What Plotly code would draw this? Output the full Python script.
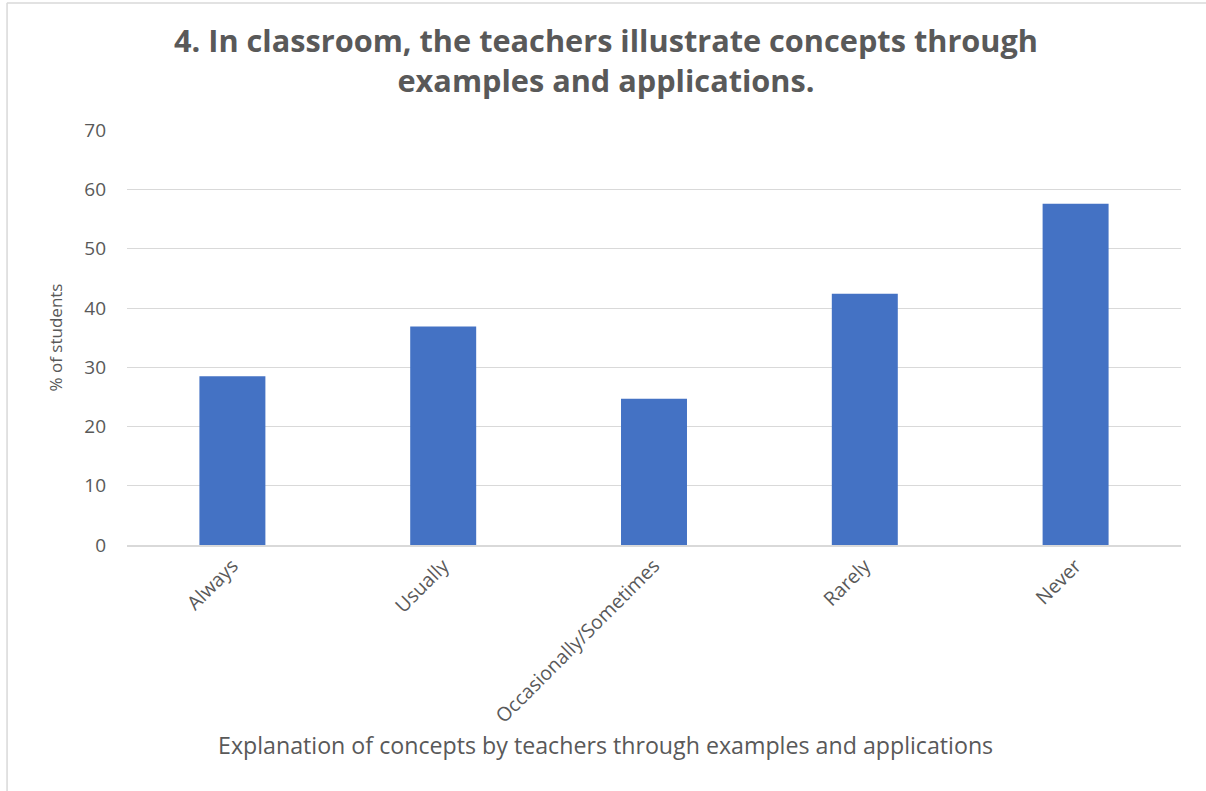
import plotly.graph_objects as go

categories = ["Always", "Usually", "Occasionally/Sometimes", "Rarely", "Never"]
values = [28.5, 36.9, 24.7, 42.4, 57.6]
y_ticks = [0, 10, 20, 30, 40, 50, 60, 70]

title_text = "4. In classroom, the teachers illustrate concepts through<br>examples and applications."
x_title = "Explanation of concepts by teachers through examples and applications"
y_title = "% of students"

gray = "#595959"
font_family = "Open Sans, Noto Sans, sans-serif"

fig = go.Figure(go.Bar(x=categories, y=values, marker=dict(color="#4472c4", line=dict(width=0)), width=0.313))

fig.update_layout(
    width=1206, height=791,
    paper_bgcolor="white", plot_bgcolor="white",
    margin=dict(l=127, r=25, t=130, b=246, autoexpand=False),
    showlegend=False,
    font=dict(family=font_family, color=gray),
)
fig.update_xaxes(
    tickangle=-45, tickfont=dict(size=19.5, color=gray),
    showgrid=False, showline=True, linecolor="#d9d9d9", linewidth=1.5,
    ticks="", type="category",
)
fig.update_yaxes(
    range=[0, 70.05], tickvals=y_ticks, tickfont=dict(size=19, color=gray),
    showgrid=True, gridcolor="#d9d9d9", gridwidth=1.3, zeroline=False,
    showline=False, ticks="", ticklabelstandoff=20,
    title=dict(text=y_title, font=dict(size=17, color=gray), standoff=17),
)
fig.add_annotation(text="<b>" + title_text.replace("<br>", "</b><br><b>") + "</b>",
                   xref="paper", yref="paper", x=0.4545, y=1.168,
                   xanchor="center", yanchor="middle", showarrow=False,
                   font=dict(size=30.7, color=gray))
fig.add_annotation(text=x_title, xref="paper", yref="paper", x=0.454, y=-0.482,
                   xanchor="center", yanchor="middle", showarrow=False,
                   font=dict(size=23.2, color=gray))
# chart border (top and left visible in reference)
fig.add_shape(type="line", xref="paper", yref="paper", x0=-0.114, x1=1.05, y0=1.306, y1=1.306,
              line=dict(color="#d9d9d9", width=1.5))
fig.add_shape(type="line", xref="paper", yref="paper", x0=-0.1138, x1=-0.1138, y0=1.306, y1=-0.6,
              line=dict(color="#d9d9d9", width=1.5))

fig.write_html("out.html", config={"displayModeBar": False},
               post_script="document.body.style.margin='0';")
